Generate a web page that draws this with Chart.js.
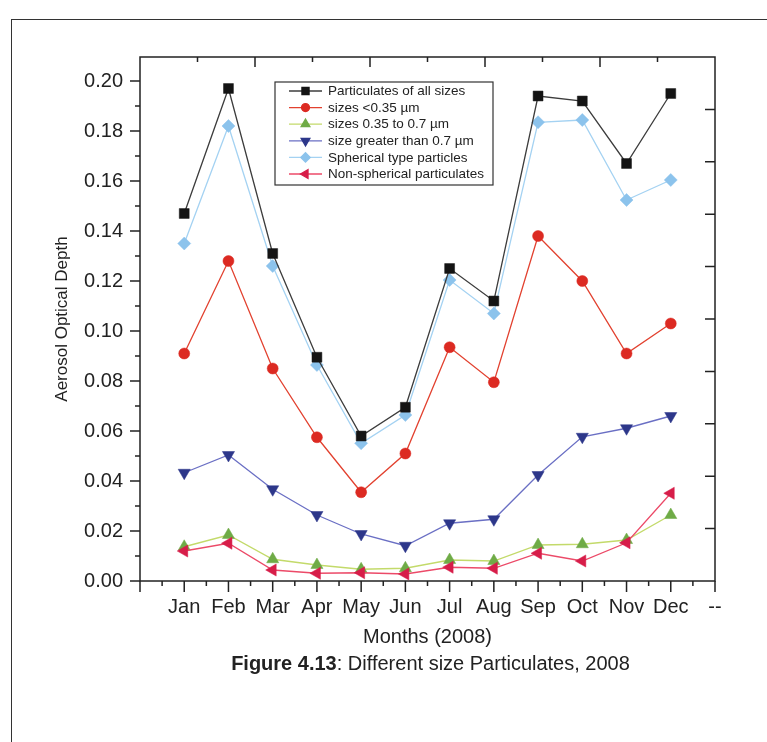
<!DOCTYPE html>
<html>
<head>
<meta charset="utf-8">
<script src="https://cdn.jsdelivr.net/npm/chart.js@4.4.1/dist/chart.umd.min.js"></script>
<style>
  html, body { margin: 0; padding: 0; background: #fff; }
  #wrap { position: relative; width: 767px; height: 742px; overflow: hidden; }
  #frame { position: absolute; left: 11px; top: 19px; width: 900px; height: 900px;
           border-top: 1.5px solid #333; border-left: 1.5px solid #333; }
  #chart { position: absolute; left: 0; top: 0; }
  #caption { position: absolute; left: 143px; width: 575px; top: 651px; text-align: center;
             font: 20px "Liberation Sans", Arial, sans-serif; color: #222; line-height: 24px; }
  #caption b { font-weight: 700; }
</style>
</head>
<body>
<div id="wrap">
  <div id="frame"></div>
  <canvas id="chart" width="767" height="742"></canvas>
  <div id="caption"><b>Figure 4.13</b>: Different size Particulates, 2008</div>
</div>
<script>
// Monthly aerosol optical depth, 2008
const months = ['Jan', 'Feb', 'Mar', 'Apr', 'May', 'Jun', 'Jul', 'Aug', 'Sep', 'Oct', 'Nov', 'Dec'];
const xTickLabels = [...months, '--'];
const yTickValues = [0, 0.02, 0.04, 0.06, 0.08, 0.10, 0.12, 0.14, 0.16, 0.18, 0.20];

const allSizes     = [0.147, 0.197, 0.131, 0.0895, 0.058, 0.0695, 0.125, 0.112, 0.194, 0.192, 0.167, 0.195];
const fineSizes    = [0.091, 0.128, 0.085, 0.0575, 0.0355, 0.051, 0.0935, 0.0795, 0.138, 0.120, 0.091, 0.103];
const midSizes     = [0.0137, 0.0184, 0.0087, 0.0064, 0.0047, 0.0051, 0.0084, 0.008, 0.0144, 0.0147, 0.0164, 0.0264];
const coarseSizes  = [0.0433, 0.0504, 0.0367, 0.0264, 0.0188, 0.0141, 0.0231, 0.0247, 0.0424, 0.0577, 0.0611, 0.066];
const spherical    = [0.135, 0.182, 0.126, 0.0864, 0.0551, 0.0664, 0.1204, 0.107, 0.1835, 0.1844, 0.1524, 0.1604];
const nonSpherical = [0.012, 0.0151, 0.0044, 0.0031, 0.0033, 0.0028, 0.0055, 0.0051, 0.0111, 0.008, 0.0153, 0.0351];

const FONT = '"Liberation Sans", Arial, sans-serif';
const INK = '#222';

const toPoints = arr => arr.map((v, i) => ({ x: i, y: v }));

function series(label, values, line, fill, style, radius, rotation, order) {
  return {
    label, data: toPoints(values), order,
    borderColor: line, borderWidth: 1.3,
    pointStyle: style, pointRadius: radius, pointHoverRadius: radius,
    pointRotation: rotation, pointBackgroundColor: fill, pointBorderColor: fill,
    pointBorderWidth: 0.5, tension: 0, fill: false
  };
}

const datasets = [
  series('Particulates of all sizes', allSizes, '#3c3c3c', '#141414', 'rect', 7, 0, 0),
  series('sizes <0.35 \u00b5m', fineSizes, '#e2412f', '#dc2a22', 'circle', 5.5, 0, 1),
  series('sizes 0.35 to 0.7 \u00b5m', midSizes, '#c3da6a', '#6fab46', 'triangle', 7, 0, 5),
  series('size greater than 0.7 \u00b5m', coarseSizes, '#6a6fc4', '#2d378a', 'triangle', 7, 180, 3),
  series('Spherical type particles', spherical, '#a4d2f2', '#8cc3ec', 'rectRot', 6.5, 0, 4),
  series('Non-spherical particulates', nonSpherical, '#ec4a68', '#d71d49', 'triangle', 7, -90, 2)
];

// Axis frame with outward ticks on left/bottom and inward ticks on top/right
const frameTicks = {
  id: 'frameTicks',
  beforeDatasetsDraw(chart) {
    const { ctx, chartArea: a, scales: { x, y } } = chart;
    ctx.save();
    ctx.strokeStyle = INK;
    ctx.lineWidth = 1.5;
    ctx.strokeRect(a.left, a.top, a.right - a.left, a.bottom - a.top);
    ctx.beginPath();
    // left axis
    yTickValues.forEach(v => {
      const p = y.getPixelForValue(v);
      ctx.moveTo(a.left - 10, p); ctx.lineTo(a.left, p);
      const m = y.getPixelForValue(v + 0.01);
      if (v + 0.01 <= y.max) { ctx.moveTo(a.left - 5, m); ctx.lineTo(a.left, m); }
    });
    // bottom axis
    for (let i = x.min; i <= x.max; i++) {
      const p = x.getPixelForValue(i);
      ctx.moveTo(p, a.bottom); ctx.lineTo(p, a.bottom + 11);
      if (i + 0.5 < x.max) {
        const m = x.getPixelForValue(i + 0.5);
        ctx.moveTo(m, a.bottom); ctx.lineTo(m, a.bottom + 5);
      }
    }
    // top axis
    const topN = 10;
    for (let k = 1; k < topN; k++) {
      const p = a.left + (a.right - a.left) * k / topN;
      ctx.moveTo(p, a.top); ctx.lineTo(p, a.top + (k % 2 === 0 ? 10 : 5));
    }
    // right axis
    for (let k = 1; k < topN; k++) {
      const p = a.bottom - (a.bottom - a.top) * k / topN;
      ctx.moveTo(a.right, p); ctx.lineTo(a.right - 10, p);
    }
    ctx.stroke();
    ctx.restore();
  }
};

// Boxed legend inside the plot
const boxLegend = {
  id: 'boxLegend',
  afterDatasetsDraw(chart) {
    const { ctx } = chart;
    const box = { left: 275, top: 82, right: 493, bottom: 185 };
    const rowTop = 91, rowGap = 16.6;
    ctx.save();
    ctx.fillStyle = '#fff';
    ctx.fillRect(box.left, box.top, box.right - box.left, box.bottom - box.top);
    ctx.strokeStyle = '#333';
    ctx.lineWidth = 1.2;
    ctx.strokeRect(box.left, box.top, box.right - box.left, box.bottom - box.top);
    ctx.font = '13.5px ' + FONT;
    ctx.textBaseline = 'middle';
    ctx.textAlign = 'left';
    chart.data.datasets.forEach((ds, i) => {
      const yy = rowTop + i * rowGap;
      ctx.strokeStyle = ds.borderColor;
      ctx.lineWidth = 1.3;
      ctx.beginPath();
      ctx.moveTo(289, yy); ctx.lineTo(322, yy);
      ctx.stroke();
      ctx.fillStyle = ds.pointBackgroundColor;
      ctx.strokeStyle = ds.pointBorderColor;
      Chart.helpers.drawPoint(ctx, {
        pointStyle: ds.pointStyle, rotation: ds.pointRotation,
        radius: ds.pointRadius * 0.72, borderWidth: 0.5
      }, 305.5, yy);
      ctx.fillStyle = INK;
      ctx.fillText(ds.label, 328, yy + 0.5);
    });
    ctx.restore();
  }
};

new Chart(document.getElementById('chart'), {
  type: 'line',
  data: { datasets },
  plugins: [frameTicks, boxLegend],
  options: {
    responsive: false,
    animation: false,
    layout: { padding: { top: 57, right: 52, left: 0, bottom: 0 } },
    plugins: { legend: { display: false }, tooltip: { enabled: false } },
    scales: {
      x: {
        type: 'linear', min: -1, max: 12,
        grid: { display: false, drawTicks: false },
        border: { display: false },
        afterBuildTicks(scale) { scale.ticks = xTickLabels.map((_, i) => ({ value: i })); },
        afterFit(scale) { scale.height = 161; },
        ticks: {
          padding: 14, autoSkip: false, maxRotation: 0, color: INK,
          font: { family: FONT, size: 20 },
          callback: v => xTickLabels[v] ?? ''
        },
        title: {
          display: true, text: 'Months (2008)', color: INK,
          font: { family: FONT, size: 20 }, padding: { top: 0, bottom: 93 }
        }
      },
      y: {
        type: 'linear', min: 0, max: 0.2096,
        grid: { display: false, drawTicks: false },
        border: { display: false },
        afterBuildTicks(scale) { scale.ticks = yTickValues.map(v => ({ value: v })); },
        afterFit(scale) { scale.width = 140; },
        ticks: {
          padding: 17, color: INK,
          font: { family: FONT, size: 20 },
          callback: v => v.toFixed(2)
        },
        title: {
          display: true, text: 'Aerosol Optical Depth', color: INK,
          font: { family: FONT, size: 17 }, padding: { top: 52, bottom: 0 }
        }
      }
    }
  }
});
</script>
</body>
</html>
